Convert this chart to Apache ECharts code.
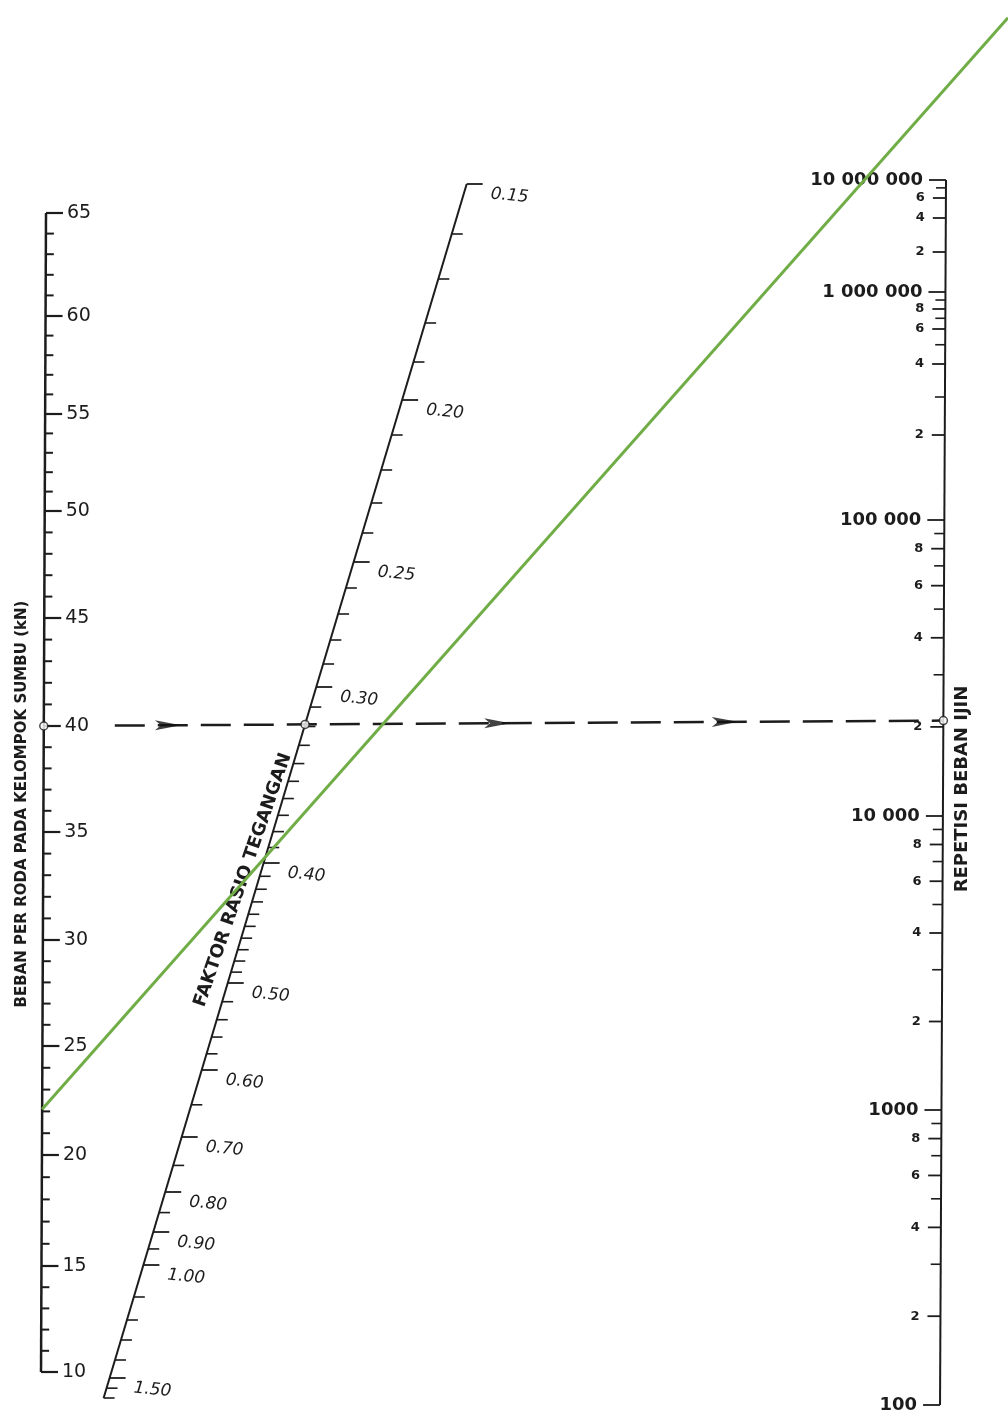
<!DOCTYPE html>
<html><head><meta charset="utf-8">
<script src="https://cdn.jsdelivr.net/npm/echarts@6/dist/echarts.min.js"></script>
<style>html,body{margin:0;padding:0;background:#fff}#c{width:1008px;height:1423px}</style>
</head><body><div id="c"></div>
<script>
// ---------------- DATA ----------------
const loadTickValues = [10, 15, 20, 25, 30, 35, 40, 45, 50, 55, 60, 65];
const loadTickLabels = ['10','15','20','25','30','35','40','45','50','55','60','65'];
const srTickValues = [0.15, 0.20, 0.25, 0.30, 0.40, 0.50, 0.60, 0.70, 0.80, 0.90, 1.00, 1.50];
const srTickLabels = ['0.15','0.20','0.25','0.30','0.40','0.50','0.60','0.70','0.80','0.90','1.00','1.50'];
const srMinorValues = [0.16,0.17,0.18,0.19,0.21,0.22,0.23,0.24,0.26,0.27,0.28,0.29,
  0.31,0.32,0.33,0.34,0.35,0.36,0.37,0.38,0.39,0.41,0.42,0.43,0.44,0.45,0.46,0.47,0.48,0.49,
  0.52,0.54,0.56,0.58,0.65,0.75,0.85,0.95,1.1,1.2,1.3,1.4,1.55,1.6];
const repDecadeValues = [100, 1000, 10000, 100000, 1000000, 10000000];
const repDecadeLabels = ['100','1000','10 000','100 000','1 000 000','10 000 000'];
const repDigitValues = [200,400,600,800, 2000,4000,6000,8000, 20000,40000,60000,80000,
  200000,400000,600000,800000, 2000000,4000000,6000000];
const repDigitLabels = ['2','4','6','8','2','4','6','8','2','4','6','8','2','4','6','8','2','4','6'];
const repMinorValues = [300,500,700,900, 3000,5000,7000,9000, 30000,50000,70000,90000,
  300000,500000,700000,900000, 8000000];
const exampleLoad = 40;           // kN, dashed example line
const exampleRepetition = 21000;  // allowable repetitions hit by the dashed line
const greenLoad = 22.1;           // kN, green line on the left scale
const greenStressRatio = 0.396;   // where the green line crosses the middle scale

// ---------------- SCALE GEOMETRY (nomogram layout) ----------------
const INK = '#1c1c1c';
const LOAD_SCALE = { v: [10,15,20,25,30,35,40,45,50,55,60,65],
  y: [1372,1266,1155,1046,940,832,726,618,511,414,316,213], xBot: 41, xTop: 46 };
const SR_SCALE = { v: [0.15,0.16,0.17,0.18,0.19,0.20,0.21,0.22,0.23,0.24,0.25,0.26,0.27,0.28,0.29,0.30,0.40,0.50,0.60,0.70,0.80,0.90,1.00,1.10,1.20,1.30,1.40,1.50,1.60],
  y: [184,234,279,323,362,400,435,470,503,533,562,588,614,640,664,687,863,983,1070,1137,1192,1232,1265,1297,1320,1340,1360,1378,1398],
  xA: 467, yA: 183, xB: 103, yB: 1400 };
const REP_SCALE = { v: [100,1000,10000,100000,200000,300000,400000,600000,800000,1000000,2000000,4000000,6000000,10000000],
  y: [1405,1110,816,520,435,397,364,329,309,292,252,218,198,180], xTop: 946, yTop: 180, xBot: 940, yBot: 1410 };

function interp(xs, ys, x) {
  let i = 0;
  if (x >= xs[xs.length - 1]) i = xs.length - 2;
  else if (x > xs[0]) { while (x > xs[i + 1]) i++; }
  const t = (x - xs[i]) / (xs[i + 1] - xs[i]);
  return ys[i] + t * (ys[i + 1] - ys[i]);
}
const SR_LOG = SR_SCALE.v.map(Math.log10);
const REP_LOG = REP_SCALE.v.map(Math.log10);
function loadPt(v) {
  const y = interp(LOAD_SCALE.v, LOAD_SCALE.y, v);
  const x = LOAD_SCALE.xBot + (LOAD_SCALE.xTop - LOAD_SCALE.xBot) * (1372 - y) / (1372 - 213);
  return [x, y];
}
function srPt(v) {
  const y = interp(SR_LOG, SR_SCALE.y, Math.log10(v));
  const x = SR_SCALE.xA + (SR_SCALE.xB - SR_SCALE.xA) * (y - SR_SCALE.yA) / (SR_SCALE.yB - SR_SCALE.yA);
  return [x, y];
}
function repPt(v) {
  const y = interp(REP_LOG, REP_SCALE.y, Math.log10(v));
  const x = REP_SCALE.xTop + (REP_SCALE.xBot - REP_SCALE.xTop) * (y - REP_SCALE.yTop) / (REP_SCALE.yBot - REP_SCALE.yTop);
  return [x, y];
}

// ---------------- helpers ----------------
function tickSeries(o) {
  return {
    type: 'custom', coordinateSystem: 'cartesian2d', silent: true, z: o.z || 3,
    data: o.values.map((v, i) => [v, i]),
    renderItem: function (params, api) {
      const v = api.value(0), i = api.value(1);
      const p = o.ptFn(v);
      const a = api.coord(p), b = api.coord([p[0] + o.len, p[1]]);
      const ch = [{ type: 'line', shape: { x1: a[0], y1: a[1], x2: b[0], y2: b[1] },
        style: { stroke: INK, lineWidth: o.width, lineCap: 'butt' } }];
      if (o.labels) {
        const t = api.coord([p[0] + o.lx, p[1] + (o.ly || 0)]);
        ch.push({ type: 'text', x: t[0], y: t[1], rotation: o.rot || 0,
          style: { text: o.labels[i], font: o.font, fill: INK,
            align: o.align, verticalAlign: 'middle', textAlign: o.align, textVerticalAlign: 'middle' } });
      }
      return { type: 'group', children: ch };
    }
  };
}
function axisLine(p0, p1, w) {
  return { type: 'line', data: [p0, p1], symbol: 'none', silent: true, z: 3,
    lineStyle: { color: INK, width: w, cap: 'butt' } };
}
function lerp(a, b, t) { return [a[0] + (b[0] - a[0]) * t, a[1] + (b[1] - a[1]) * t]; }
function intersect(p1, p2, p3, p4) {
  const d = (p1[0]-p2[0])*(p3[1]-p4[1]) - (p1[1]-p2[1])*(p3[0]-p4[0]);
  const t = ((p1[0]-p3[0])*(p3[1]-p4[1]) - (p1[1]-p3[1])*(p3[0]-p4[0])) / d;
  return lerp(p1, p2, t);
}

// ---------------- example lines ----------------
const exL = loadPt(exampleLoad), exR = repPt(exampleRepetition);
const dashStart = lerp(exL, exR, 71 / (exR[0] - exL[0]));
const exMid = intersect(exL, exR, srPt(0.15), srPt(1.6));
const arrowPts = [0.138, 0.504, 0.757].map(f => lerp(exL, exR, f));
const arrowRot = -Math.atan2(exR[1] - exL[1], exR[0] - exL[0]) * 180 / Math.PI;

const gA = loadPt(greenLoad), gB = srPt(greenStressRatio);
const gEnd = lerp(gA, gB, (1008 - gA[0]) / (gB[0] - gA[0]));

const loadMinor = [];
for (let v = 10; v <= 65; v++) if (v % 5 !== 0) loadMinor.push(v);

const TITLE_FONT = '"DejaVu Sans",sans-serif';
const LBL_FONT = '"DejaVu Sans",sans-serif';

const option = {
  animation: false,
  backgroundColor: '#fff',
  grid: { left: 0, right: 0, top: 0, bottom: 0 },
  xAxis: { type: 'value', min: 0, max: 1008, show: false },
  yAxis: { type: 'value', min: 0, max: 1423, inverse: true, show: false },
  series: [
    axisLine(loadPt(10), loadPt(65), 2.5),
    axisLine(srPt(0.15), srPt(1.6), 2),
    axisLine(repPt(10000000), repPt(100), 2),
    tickSeries({ values: loadTickValues, labels: loadTickLabels, ptFn: loadPt, len: 17, width: 2.2,
      lx: 21, align: 'left', font: '19px ' + LBL_FONT }),
    tickSeries({ values: loadMinor, ptFn: loadPt, len: 8, width: 2 }),
    tickSeries({ values: srTickValues, labels: srTickLabels, ptFn: srPt, len: 16, width: 1.8,
      lx: 24, ly: 10, rot: -0.1, align: 'left', font: 'italic 17px ' + LBL_FONT }),
    tickSeries({ values: srMinorValues, ptFn: srPt, len: 11, width: 1.6 }),
    tickSeries({ values: repDecadeValues, labels: repDecadeLabels, ptFn: repPt, len: -17, width: 1.8,
      lx: -23, align: 'right', font: 'bold 18px ' + LBL_FONT }),
    tickSeries({ values: repDigitValues, labels: repDigitLabels, ptFn: repPt, len: -13, width: 1.8,
      lx: -21, align: 'right', font: 'bold 13px ' + LBL_FONT }),
    tickSeries({ values: repMinorValues, ptFn: repPt, len: -10, width: 1.6 }),
    { type: 'line', data: [dashStart, exR], symbol: 'none', silent: true, z: 4,
      lineStyle: { color: INK, width: 2.5, type: [30, 13] } },
    { type: 'scatter', data: arrowPts, silent: true, z: 5,
      symbol: 'path://M0,0 L26,5 L0,10 L6,5 Z', symbolSize: [26, 10], symbolRotate: arrowRot,
      itemStyle: { color: '#111' } },
    { type: 'scatter', data: [exL, exMid, exR], silent: true, z: 6, symbol: 'circle', symbolSize: 8,
      itemStyle: { color: '#fff', borderColor: INK, borderWidth: 1.5 } },
    { type: 'line', data: [gA, gEnd], symbol: 'none', silent: true, z: 10,
      lineStyle: { color: '#70AD47', width: 3 } }
  ],
  graphic: [
    { type: 'text', x: 22, y: 804, rotation: Math.PI / 2, z: 5,
      style: { text: 'BEBAN PER RODA PADA KELOMPOK SUMBU (kN)', font: 'bold 15px ' + TITLE_FONT, fill: INK,
        align: 'center', verticalAlign: 'middle', textAlign: 'center', textVerticalAlign: 'middle' } },
    { type: 'text', x: 243, y: 880, rotation: 1.24, z: 5,
      style: { text: 'FAKTOR RASIO TEGANGAN', font: 'bold 18px ' + TITLE_FONT, fill: INK,
        align: 'center', verticalAlign: 'middle', textAlign: 'center', textVerticalAlign: 'middle' } },
    { type: 'text', x: 962, y: 789, rotation: Math.PI / 2, z: 5,
      style: { text: 'REPETISI BEBAN IJIN', font: 'bold 18px ' + TITLE_FONT, fill: INK,
        align: 'center', verticalAlign: 'middle', textAlign: 'center', textVerticalAlign: 'middle' } }
  ]
};
const chart = echarts.init(document.getElementById('c'));
chart.setOption(option);
</script></body></html>
